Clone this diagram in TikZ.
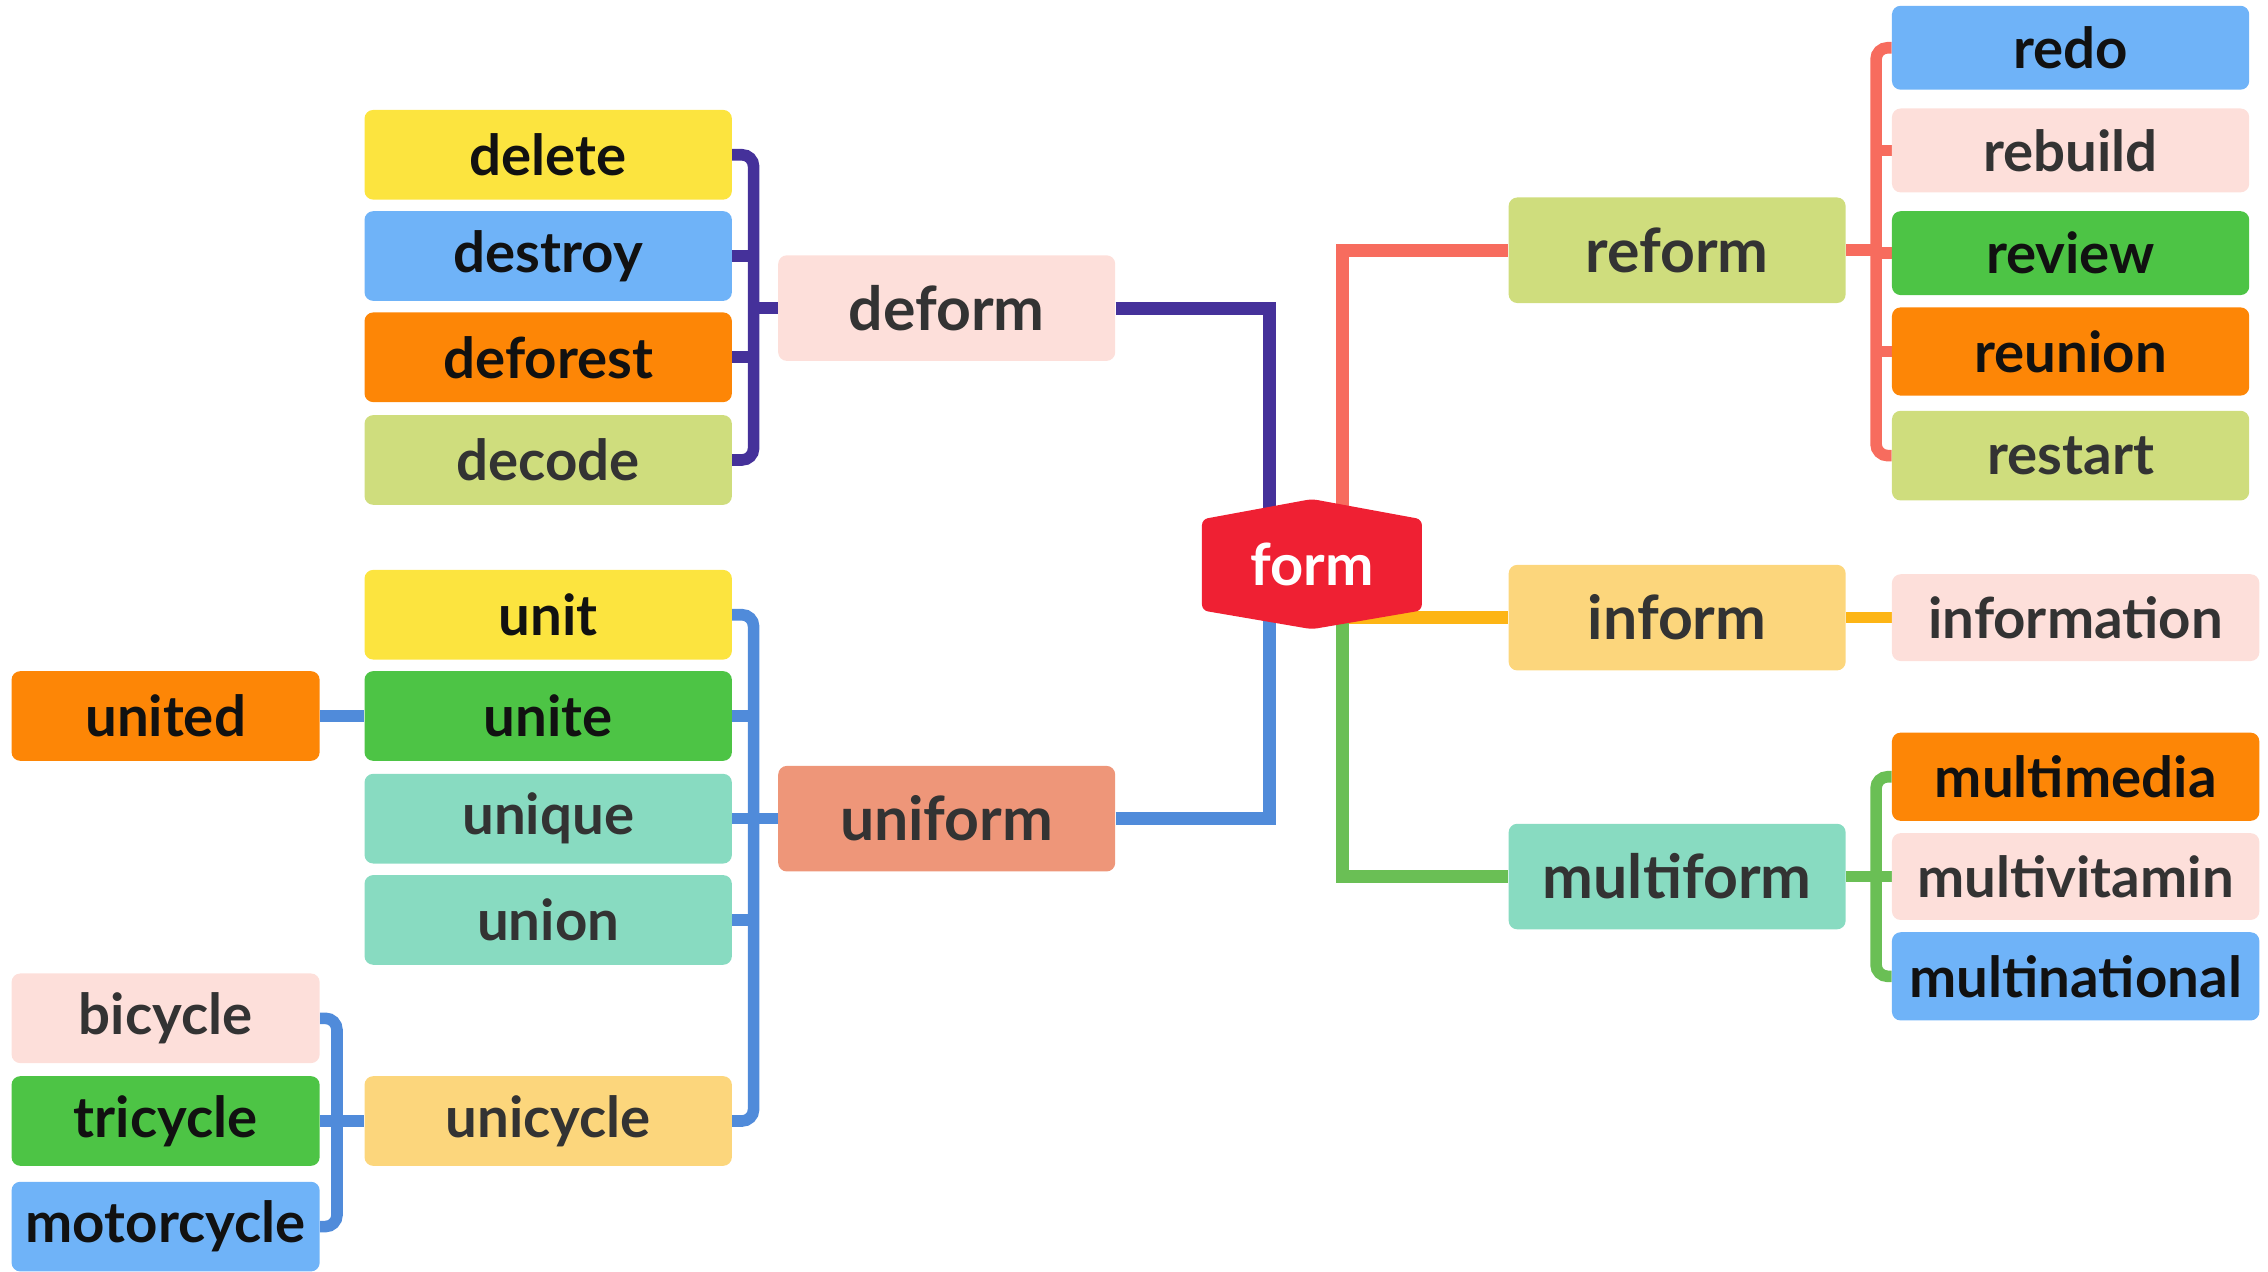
\documentclass[tikz,border=0pt]{standalone}
\usepackage{fontspec}
\setmainfont{Lato}
\usepackage{tikz}
\usetikzlibrary{backgrounds}
\definecolor{linepurple}{HTML}{45319A}
\definecolor{linesalmon}{HTML}{F76C5E}
\definecolor{lineyellow}{HTML}{FDB515}
\definecolor{linegreen}{HTML}{6ABF55}
\definecolor{lineblue}{HTML}{508BDA}
\definecolor{formred}{HTML}{EF2033}
\definecolor{boxyellow}{HTML}{FCE43F}
\definecolor{boxblue}{HTML}{6FB3F8}
\definecolor{boxorange}{HTML}{FD8606}
\definecolor{boxolive}{HTML}{CFDD7D}
\definecolor{boxpink}{HTML}{FDDFDA}
\definecolor{boxgreen}{HTML}{4DC445}
\definecolor{boxteal}{HTML}{88DBC1}
\definecolor{boxsalmon}{HTML}{EE9679}
\definecolor{boxpeach}{HTML}{FCD67C}
\definecolor{inkdark}{HTML}{111111}
\definecolor{inkgray}{HTML}{333333}
\tikzset{
    word/.style={
           rectangle,
           rounded corners=6pt,
           minimum width=254pt,
           minimum height=62pt,
           inner sep=0pt,
           text centered,
           text=inkgray,
           font=\fontsize{39}{42}\selectfont\bfseries,
           },
    shortword/.style={word, minimum width=213pt},
    rword/.style={word, minimum width=247pt, minimum height=58pt},
    stem/.style={word, minimum width=233pt, minimum height=73pt,
           font=\fontsize{42}{46}\selectfont\bfseries},
    strong/.style={text=inkdark},
    link/.style={line width=8pt, rounded corners=8pt},
    rootlink/.style={line width=9pt, sharp corners},
}

\begin{document}
\begin{tikzpicture}
\useasboundingbox (0pt,0pt) rectangle (1568pt,-879pt);
% root
\fill[formred, rounded corners=4pt] (831pt,-359pt) -- (907pt,-345pt) -- (983pt,-359pt)
      -- (983pt,-422pt) -- (907pt,-435pt) -- (831pt,-422pt) -- cycle;
\node[text=white, font=\fontsize{40}{44}\selectfont\bfseries, xshift=907pt, yshift=-390pt] (form) {form};
% de-
\node[word, strong, fill=boxyellow, xshift=379pt, yshift=-107pt] (delete) {delete};
\node[word, strong, fill=boxblue, xshift=379pt, yshift=-177pt] (destroy) {destroy};
\node[word, strong, fill=boxorange, xshift=379pt, yshift=-247pt] (deforest) {deforest};
\node[word, fill=boxolive, xshift=379pt, yshift=-318pt] (decode) {decode};
\node[stem, fill=boxpink, xshift=654.5pt, yshift=-213pt] (deform) {deform};
% uni-
\node[word, strong, fill=boxyellow, xshift=379pt, yshift=-425pt] (unit) {unit};
\node[word, strong, fill=boxgreen, xshift=379pt, yshift=-495pt] (unite) {unite};
\node[word, fill=boxteal, xshift=379pt, yshift=-566pt] (unique) {unique};
\node[word, fill=boxteal, xshift=379pt, yshift=-636pt] (union) {union};
\node[word, fill=boxpeach, xshift=379pt, yshift=-775pt] (unicycle) {unicycle};
\node[stem, fill=boxsalmon, xshift=654.5pt, yshift=-566pt] (uniform) {uniform};
\node[shortword, strong, fill=boxorange, xshift=114.5pt, yshift=-495pt] (united) {united};
\node[shortword, fill=boxpink, xshift=114.5pt, yshift=-704pt] (bicycle) {bicycle};
\node[shortword, strong, fill=boxgreen, xshift=114.5pt, yshift=-775pt] (tricycle) {tricycle};
\node[shortword, strong, fill=boxblue, xshift=114.5pt, yshift=-848pt] (motorcycle) {motorcycle};
% re-
\node[stem, fill=boxolive, xshift=1159.5pt, yshift=-173pt] (reform) {reform};
\node[rword, strong, fill=boxblue, xshift=1431.5pt, yshift=-33pt] (redo) {redo};
\node[rword, fill=boxpink, xshift=1431.5pt, yshift=-104pt] (rebuild) {rebuild};
\node[rword, strong, fill=boxgreen, xshift=1431.5pt, yshift=-175pt] (review) {review};
\node[rword, strong, fill=boxorange, minimum height=61pt, xshift=1431.5pt, yshift=-243pt] (reunion) {reunion};
\node[rword, fill=boxolive, minimum height=62pt, xshift=1431.5pt, yshift=-315pt] (restart) {restart};
% in-
\node[stem, fill=boxpeach, xshift=1159.5pt, yshift=-427pt] (inform) {inform};
\node[word, fill=boxpink, minimum height=60pt, xshift=1435pt, yshift=-427pt] (information) {information};
% multi-
\node[stem, fill=boxteal, xshift=1159.5pt, yshift=-606pt] (multiform) {multiform};
\node[word, strong, fill=boxorange, minimum height=61pt, xshift=1435pt, yshift=-537pt] (multimedia) {multimedia};
\node[word, fill=boxpink, minimum height=60pt, xshift=1435pt, yshift=-606pt] (multivitamin) {multivitamin};
\node[word, strong, fill=boxblue, minimum height=61pt, xshift=1435pt, yshift=-675pt] (multinational) {multinational};
% bars
\coordinate[xshift=521pt] (lbar);
\coordinate[xshift=233pt] (cbar);
\coordinate[xshift=1297pt] (rbar);
\begin{scope}[on background layer]
 \draw[link, linepurple] (delete.east) -| (deform.west -| lbar) |- (decode.east);
 \path[link, linepurple] (destroy.east) edge (destroy.east -| lbar)
       (deforest.east) edge (deforest.east -| lbar)
       (deform.west) edge (deform.west -| lbar);
 \draw[rootlink, linepurple] (deform.east) -| ([xshift=-29pt]form.center);
 \draw[link, lineblue] (unit.east) -| (uniform.west -| lbar) |- (unicycle.east);
 \path[link, lineblue] (unite.east) edge (unite.east -| lbar)
       (unique.east) edge (unique.east -| lbar)
       (union.east) edge (union.east -| lbar)
       (uniform.west) edge (uniform.west -| lbar)
       (united) edge (unite)
       (tricycle) edge (unicycle);
 \draw[link, lineblue] (bicycle.east) -| (tricycle.east -| cbar) |- (motorcycle.east);
 \draw[rootlink, lineblue] (uniform.east) -| ([xshift=-29pt]form.center);
 \draw[rootlink, linesalmon] ([xshift=21pt]form.center) |- (reform.west);
 \draw[link, linesalmon] (redo.west) -| (reform.east -| rbar) |- (restart.west);
 \path[link, linesalmon] (rebuild.west) edge (rebuild.west -| rbar)
       (review.west) edge (review.west -| rbar)
       (reunion.west) edge (reunion.west -| rbar)
       (reform.east) edge (reform.east -| rbar);
 \path[rootlink, lineyellow] (form.center |- inform.west) edge (inform.west);
 \path[link, lineyellow] (inform) edge (information);
 \draw[rootlink, linegreen] ([xshift=21pt]form.center) |- (multiform.west);
 \draw[link, linegreen] (multimedia.west) -| (multiform.east -| rbar) |- (multinational.west);
 \path[link, linegreen] (multivitamin.west) edge (multivitamin.west -| rbar)
       (multiform.east) edge (multiform.east -| rbar);
\end{scope}
\end{tikzpicture}
\end{document}
